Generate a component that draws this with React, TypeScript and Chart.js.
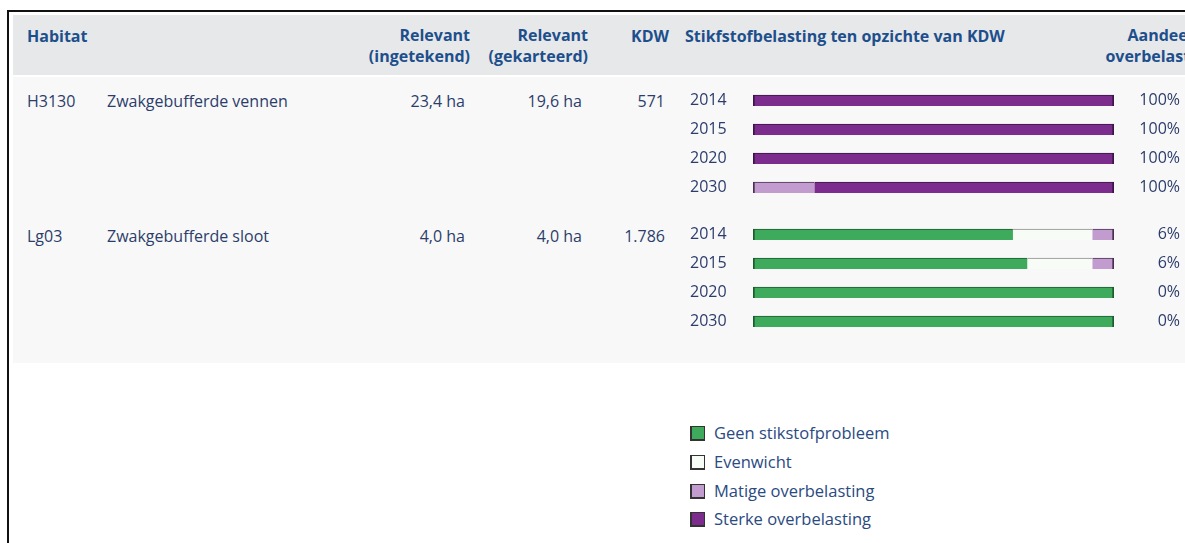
import React, { useEffect, useRef } from 'react';
import { Chart, registerables } from 'chart.js';

Chart.register(...registerables);

const FONT = '"Open Sans", "Noto Sans", sans-serif';
const HEAD_COLOR = '#1d4f8c';
const TEXT_COLOR = '#2c3d6b';

// ---- data ----
const years = ['2014', '2015', '2020', '2030'];
const habitatCodes = ['H3130', 'Lg03'];
const habitatNames = ['Zwakgebufferde vennen', 'Zwakgebufferde sloot'];
const relevantIngetekend = ['23,4 ha', '4,0 ha'];
const relevantGekarteerd = ['19,6 ha', '4,0 ha'];
const kdwValues = ['571', '1.786'];

const categoryNames = ['Geen stikstofprobleem', 'Evenwicht', 'Matige overbelasting', 'Sterke overbelasting'];
const categoryColors = ['#3dab5b', '#f7fcf6', '#c39ccf', '#7b2c8c'];
const categoryBorders = ['#1e5a30', '#8c8c8c', '#4a3050', '#3a1545'];

const h3130Geen = [0, 0, 0, 0];
const h3130Evenwicht = [0, 0, 0, 0];
const h3130Matige = [0, 0, 0, 17];
const h3130Sterke = [100, 100, 100, 83];
const h3130Aandeel = ['100%', '100%', '100%', '100%'];

const lg03Geen = [72, 76, 100, 100];
const lg03Evenwicht = [22, 18, 0, 0];
const lg03Matige = [6, 6, 0, 0];
const lg03Sterke = [0, 0, 0, 0];
const lg03Aandeel = ['6%', '6%', '0%', '0%'];

const groups = [
  { series: [h3130Geen, h3130Evenwicht, h3130Matige, h3130Sterke], aandeel: h3130Aandeel, top: 86 },
  { series: [lg03Geen, lg03Evenwicht, lg03Matige, lg03Sterke], aandeel: lg03Aandeel, top: 220 },
];
const rowTops = [101, 236];

function BarGroup({ series, aandeel, top }: { series: number[][]; aandeel: string[]; top: number }) {
  const ref = useRef<HTMLCanvasElement | null>(null);
  useEffect(() => {
    if (!ref.current) return;
    const firstNonZero = (i: number) => series.findIndex((s) => s[i] > 0);
    const lastNonZero = (i: number) => {
      for (let k = series.length - 1; k >= 0; k--) if (series[k][i] > 0) return k;
      return -1;
    };
    const fitY = (w: number) => (s: any) => {
      s.width = w;
      s.paddingTop = 0;
      s.paddingBottom = 0;
    };
    const chart = new Chart(ref.current, {
      type: 'bar',
      data: {
        labels: years,
        datasets: series.map((data, k) => ({
          label: categoryNames[k],
          data,
          backgroundColor: categoryColors[k],
          borderColor: categoryBorders[k],
          borderSkipped: false,
          borderWidth: (ctx: any) => {
            const i = ctx.dataIndex;
            return {
              top: 1,
              bottom: 0,
              left: firstNonZero(i) === k ? 2 : 0,
              right: lastNonZero(i) === k ? 2 : 0,
            };
          },
          barThickness: 11,
        })),
      },
      options: {
        indexAxis: 'y',
        animation: false,
        responsive: false,
        maintainAspectRatio: false,
        layout: { padding: 0 },
        plugins: { legend: { display: false }, tooltip: { enabled: false } },
        scales: {
          x: { stacked: true, min: 0, max: 100, display: false },
          y: {
            stacked: true,
            offset: true,
            grid: { display: false },
            border: { display: false },
            ticks: { crossAlign: 'far', padding: 0, color: TEXT_COLOR, font: { family: FONT, size: 16 } },
            afterFit: fitY(63),
          },
          y2: {
            type: 'category',
            labels: aandeel,
            position: 'right',
            offset: true,
            grid: { display: false },
            border: { display: false },
            ticks: { crossAlign: 'far', padding: 0, color: TEXT_COLOR, font: { family: FONT, size: 16 } },
            afterFit: fitY(66),
          },
        },
      } as any,
    });
    return () => chart.destroy();
  }, []);
  return (
    <canvas
      ref={ref}
      width={490}
      height={116}
      style={{ position: 'absolute', left: 690, top, width: 490, height: 116 }}
    />
  );
}

const abs = (left: number, top: number, extra: React.CSSProperties = {}): React.CSSProperties => ({
  position: 'absolute',
  left,
  top,
  ...extra,
});

export default function App() {
  const head: React.CSSProperties = {
    fontFamily: FONT,
    fontWeight: 700,
    fontSize: 16,
    color: HEAD_COLOR,
    lineHeight: '21px',
    whiteSpace: 'nowrap',
  };
  const body: React.CSSProperties = {
    fontFamily: FONT,
    fontSize: 16,
    color: TEXT_COLOR,
    lineHeight: '20px',
    whiteSpace: 'nowrap',
  };
  return (
    <div
      style={{
        position: 'fixed',
        left: 0,
        top: 0,
        width: 1185,
        height: 543,
        overflow: 'hidden',
        background: '#ffffff',
      }}
    >
      {/* frame */}
      <div style={abs(7, 10, { width: 1178, height: 2, background: '#111' })} />
      <div style={abs(7, 10, { width: 2, height: 533, background: '#111' })} />
      {/* bands */}
      <div style={abs(13, 15, { width: 1172, height: 60, background: '#e7e8e9' })} />
      <div style={abs(13, 77, { width: 1172, height: 286, background: '#f8f8f8' })} />

      {/* header */}
      <div style={abs(27, 26, head)}>Habitat</div>
      <div style={abs(330, 25, { ...head, width: 140, textAlign: 'right' })}>
        Relevant
        <br />
        (ingetekend)
      </div>
      <div style={abs(448, 25, { ...head, width: 140, textAlign: 'right' })}>
        Relevant
        <br />
        (gekarteerd)
      </div>
      <div style={abs(600, 26, { ...head, width: 69, textAlign: 'right' })}>KDW</div>
      <div style={abs(685, 26, head)}>Stikfstofbelasting ten opzichte van KDW</div>
      <div style={abs(1090, 25, { ...head, width: 140, textAlign: 'center' })}>
        Aandeel
        <br />
        overbelasting
      </div>

      {/* body rows */}
      {habitatCodes.map((code, i) => (
        <React.Fragment key={code}>
          <div style={abs(27, rowTops[i] - 10, body)}>{code}</div>
          <div style={abs(107, rowTops[i] - 10, body)}>{habitatNames[i]}</div>
          <div style={abs(325, rowTops[i] - 10, { ...body, width: 140, textAlign: 'right' })}>
            {relevantIngetekend[i]}
          </div>
          <div style={abs(442, rowTops[i] - 10, { ...body, width: 140, textAlign: 'right' })}>
            {relevantGekarteerd[i]}
          </div>
          <div style={abs(565, rowTops[i] - 10, { ...body, width: 100, textAlign: 'right' })}>{kdwValues[i]}</div>
        </React.Fragment>
      ))}

      {groups.map((g, i) => (
        <BarGroup key={i} series={g.series} aandeel={g.aandeel} top={g.top} />
      ))}

      {/* legend */}
      {categoryNames.map((name, k) => (
        <React.Fragment key={name}>
          <div
            style={abs(690, [426, 455, 484, 512][k], {
              width: 12,
              height: 12,
              background: categoryColors[k],
              border: '1px solid #333',
              borderLeftWidth: 2,
              borderBottomWidth: 2,
            })}
          />
          <div style={abs(714, [423, 452, 481, 509][k], { ...body, fontSize: 16.5, color: '#2a4a82' })}>{name}</div>
        </React.Fragment>
      ))}
    </div>
  );
}
